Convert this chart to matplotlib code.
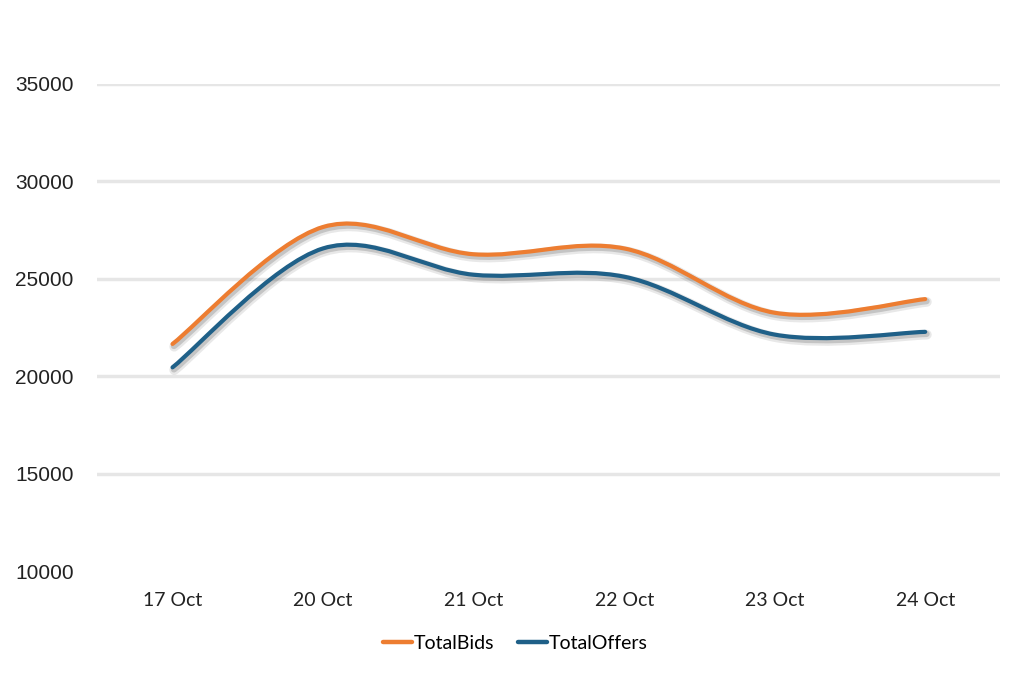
import numpy as np
import matplotlib
matplotlib.use("Agg")
import matplotlib.pyplot as plt
import matplotlib.patheffects as pe
from matplotlib.path import Path
from matplotlib.patches import PathPatch
from matplotlib.lines import Line2D

# Data
dates = ["17 Oct", "20 Oct", "21 Oct", "22 Oct", "23 Oct", "24 Oct"]
total_bids = [21650, 27650, 26250, 26550, 23250, 23950]
total_offers = [20450, 26550, 25200, 25100, 22130, 22270]

bids_color = "#ED7D31"
offers_color = "#1F6088"


def smooth_path(xs, ys):
    # Excel-like smoothed line: cubic bezier segments (Catmull-Rom tangents)
    pts = np.column_stack([xs, ys]).astype(float)
    n = len(pts)
    verts = [pts[0]]
    codes = [Path.MOVETO]
    for i in range(n - 1):
        p0 = pts[i - 1] if i > 0 else pts[i]
        p1 = pts[i]
        p2 = pts[i + 1]
        p3 = pts[i + 2] if i + 2 < n else pts[i + 1]
        c1 = p1 + (p2 - p0) / 6.0
        c2 = p2 - (p3 - p1) / 6.0
        verts += [c1, c2, p2]
        codes += [Path.CURVE4] * 3
    return Path(verts, codes)


fig = plt.figure(figsize=(10.24, 6.75), dpi=100)
ax = fig.add_axes([0.095, 0.154, 0.882, 0.722])

x = np.arange(len(dates))
# soft drop shadow under each line
shadow = [pe.SimpleLineShadow(offset=(1.2, -2.0), shadow_color="#444444", alpha=0.12, linewidth=7),
          pe.SimpleLineShadow(offset=(1.0, -1.5), shadow_color="#444444", alpha=0.22, linewidth=4.5),
          pe.Normal()]

for vals, color, label in [(total_bids, bids_color, "TotalBids"),
                           (total_offers, offers_color, "TotalOffers")]:
    patch = PathPatch(smooth_path(x, vals), facecolor="none", edgecolor=color,
                      lw=3.0, capstyle="round", joinstyle="round", label=label)
    patch.set_path_effects(shadow)
    ax.add_patch(patch)

ax.set_xlim(-0.5, len(dates) - 0.5)
ax.set_ylim(10000, 35000)
ax.set_yticks(range(10000, 35001, 5000))
ax.set_xticks(x)
ax.set_xticklabels(dates, fontsize=14, family="Lato", color="#222222")
ax.tick_params(axis="both", length=0)
ax.tick_params(axis="x", pad=15)
for lbl in ax.get_yticklabels():
    lbl.set_fontsize(15)
    lbl.set_family("Liberation Sans")
    lbl.set_color("#222222")
    lbl.set_horizontalalignment("left")
ax.tick_params(axis="y", pad=59)

for y in range(15000, 35001, 5000):
    ax.axhline(y, color="#E6E6E6", lw=2.5, zorder=0)
for s in ax.spines.values():
    s.set_visible(False)

handles = [Line2D([], [], color=bids_color, lw=3.2, solid_capstyle="round"),
           Line2D([], [], color=offers_color, lw=3.2, solid_capstyle="round")]
fig.legend(handles, ["TotalBids", "TotalOffers"], loc="center", bbox_to_anchor=(0.503, 0.047),
           ncol=2, frameon=False, prop={"family": "Lato", "size": 14},
           handlelength=1.5, handletextpad=0.1, columnspacing=1.2)

fig.savefig("out.png", dpi=100, facecolor="white")
